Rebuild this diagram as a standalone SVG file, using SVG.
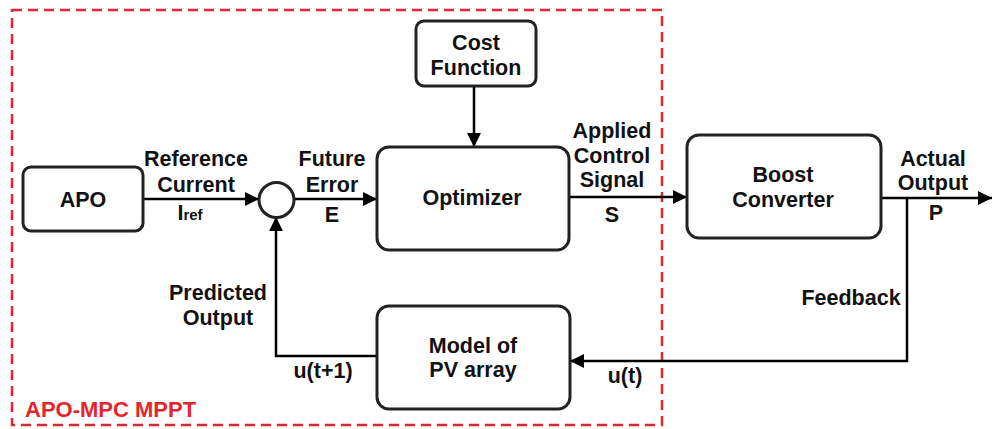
<svg xmlns="http://www.w3.org/2000/svg" width="992" height="429" viewBox="0 0 992 429">
<defs>
<marker id="ah" viewBox="0 0 14 14" refX="14" refY="7" markerWidth="14" markerHeight="14" markerUnits="userSpaceOnUse" orient="auto">
<path d="M0,0 L14,7 L0,14 Z" fill="#000"/>
</marker>
</defs>
<style>
.box{fill:#fff;stroke:#222;stroke-width:3}
.ln{fill:none;stroke:#000;stroke-width:2.5}
.t{font-family:"Liberation Sans",Arial,sans-serif;font-weight:bold;font-size:21.5px;fill:#111;text-anchor:middle}
.red{fill:#e3262d;text-anchor:start;font-size:22px}
</style>
<rect width="992" height="429" fill="#fff"/>
<rect x="12" y="10" width="650" height="415" fill="none" stroke="#e3262d" stroke-width="2.5" stroke-dasharray="10 6"/>
<g id="connectors">
<path class="ln" d="M143,199 H259" marker-end="url(#ah)"/>
<path class="ln" d="M294,199 H377" marker-end="url(#ah)"/>
<path class="ln" d="M474,86 V147" marker-end="url(#ah)"/>
<path class="ln" d="M569,197 H687" marker-end="url(#ah)"/>
<path class="ln" d="M881,198 H992" marker-end="url(#ah)"/>
<path class="ln" d="M907,198 V361 H570" marker-end="url(#ah)"/>
<path class="ln" d="M377,356 H276 V217" marker-end="url(#ah)"/>
</g>
<g id="apo"><rect class="box" x="23" y="167" width="120" height="64" rx="8"/><text class="t" x="83" y="207">APO</text></g>
<g id="sum"><circle cx="276.5" cy="200" r="17.5" fill="#fff" stroke="#222" stroke-width="3"/></g>
<g id="cost"><rect class="box" x="416" y="21" width="120" height="65" rx="8"/><text class="t" x="476" y="50">Cost</text><text class="t" x="476" y="75">Function</text></g>
<g id="optimizer"><rect class="box" x="377" y="147" width="192" height="103" rx="12"/><text class="t" x="472" y="205">Optimizer</text></g>
<g id="boost"><rect class="box" x="687" y="135" width="194" height="103" rx="12"/><text class="t" x="783" y="182">Boost</text><text class="t" x="783" y="207">Converter</text></g>
<g id="model"><rect class="box" x="377" y="306" width="193" height="103" rx="12"/><text class="t" x="473" y="353">Model of</text><text class="t" x="473" y="377">PV array</text></g>
<g id="labels">
<text class="t" x="196" y="166">Reference</text>
<text class="t" x="196" y="192">Current</text>
<text class="t" x="190" y="220">I<tspan font-size="15">ref</tspan></text>
<text class="t" x="332" y="166">Future</text>
<text class="t" x="332" y="192">Error</text>
<text class="t" x="332" y="222">E</text>
<text class="t" x="612" y="138">Applied</text>
<text class="t" x="612" y="163">Control</text>
<text class="t" x="612" y="187">Signal</text>
<text class="t" x="612" y="222">S</text>
<text class="t" x="933" y="166">Actual</text>
<text class="t" x="933" y="190">Output</text>
<text class="t" x="936" y="220">P</text>
<text class="t" x="851" y="305">Feedback</text>
<text class="t" x="625" y="383">u(t)</text>
<text class="t" x="218" y="300">Predicted</text>
<text class="t" x="218" y="325">Output</text>
<text class="t" x="323" y="378">u(t+1)</text>
<text class="t red" x="25" y="417">APO-MPC MPPT</text>
</g>
</svg>
